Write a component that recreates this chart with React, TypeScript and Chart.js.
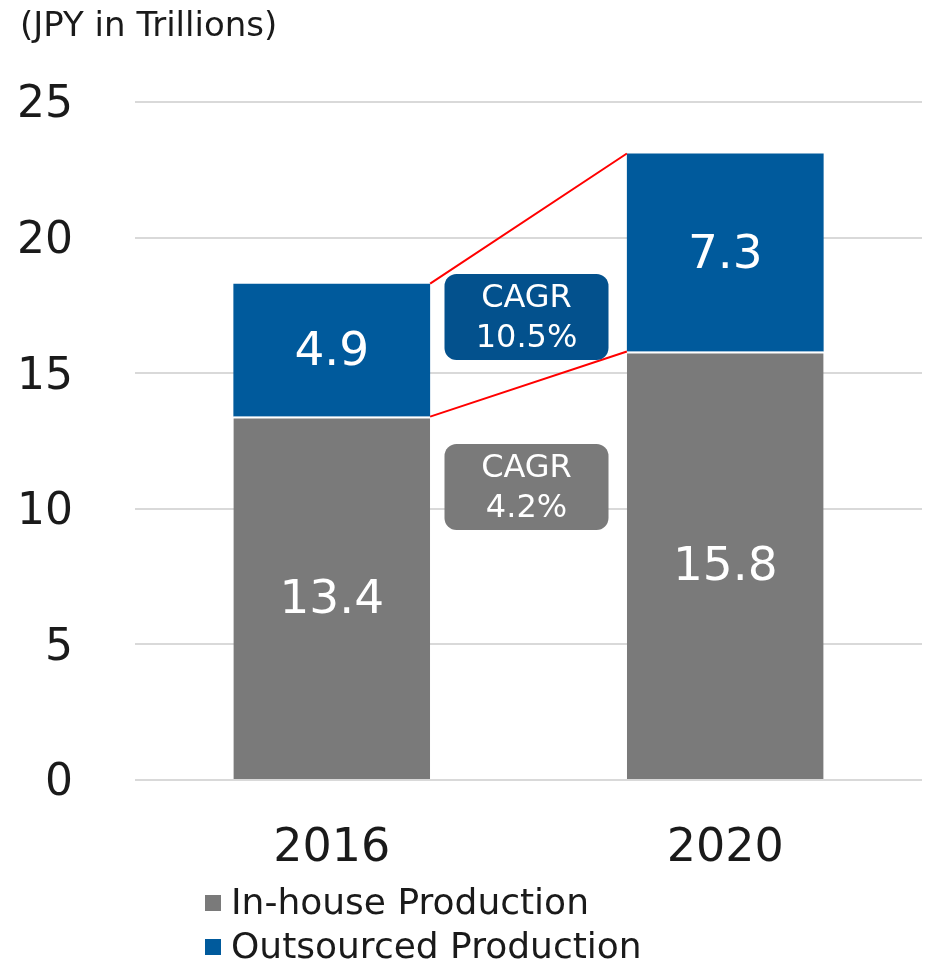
import React, { useEffect, useRef } from "react";
import { Chart, registerables } from "chart.js";

Chart.register(...registerables);

const categories = ["2016", "2020"];
const inHouse = [13.4, 15.8];
const outsourced = [4.9, 7.3];
const seriesNames = ["In-house Production", "Outsourced Production"];
const cagrLabels = ["10.5%", "4.2%"];
const yTicks = [0, 5, 10, 15, 20, 25];
const unitLabel = "(JPY in Trillions)";

const GRAY = "#7a7a7a";
const BLUE = "#005a9c";
const BOX_BLUE = "#03518d";
const FONT = "'DejaVu Sans', Verdana, sans-serif";

const overlayPlugin = {
  id: "overlay",
  afterDatasetsDraw(chart: any) {
    const ctx = chart.ctx;
    const y = chart.scales.y;
    const m0 = chart.getDatasetMeta(0);
    const m1 = chart.getDatasetMeta(1);
    ctx.save();
    // value labels
    ctx.fillStyle = "#ffffff";
    ctx.font = `47px ${FONT}`;
    ctx.textAlign = "center";
    ctx.textBaseline = "middle";
    categories.forEach((_, i) => {
      const b0 = m0.data[i];
      const b1 = m1.data[i];
      ctx.fillText(String(inHouse[i]), b0.x, (b0.y + b0.base) / 2 + 3);
      ctx.fillText(String(outsourced[i]), b1.x, (b1.y + b1.base) / 2 + 3);
    });
    // red connector lines
    const a0 = m1.data[0];
    const a1 = m1.data[1];
    const half0 = a0.width / 2;
    const half1 = a1.width / 2;
    ctx.strokeStyle = "#ff0000";
    ctx.lineWidth = 2;
    ctx.beginPath();
    ctx.moveTo(a0.x + half0, a0.y);
    ctx.lineTo(a1.x - half1, a1.y);
    ctx.moveTo(a0.x + half0, a0.base);
    ctx.lineTo(a1.x - half1, a1.base);
    ctx.stroke();
    // CAGR boxes
    const cx = (a0.x + half0 + a1.x - half1) / 2 - 2;
    const boxes = [
      { v: 17.07, color: BOX_BLUE, text: cagrLabels[0] },
      { v: 10.8, color: GRAY, text: cagrLabels[1] },
    ];
    const bw = 164;
    const bh = 86;
    boxes.forEach((b) => {
      const cy = y.getPixelForValue(b.v);
      ctx.fillStyle = b.color;
      ctx.beginPath();
      (ctx as any).roundRect(cx - bw / 2, cy - bh / 2, bw, bh, 12);
      ctx.fill();
      ctx.fillStyle = "#ffffff";
      ctx.font = `32px ${FONT}`;
      ctx.fillText("CAGR", cx, cy - 18);
      ctx.fillText(b.text, cx, cy + 22);
    });
    // unit label
    ctx.fillStyle = "#1a1a1a";
    ctx.textAlign = "left";
    ctx.font = `34px ${FONT}`;
    ctx.fillText(unitLabel, 20, 27);
    // legend
    const colors = [GRAY, BLUE];
    const ly = [903, 947];
    ctx.font = `36px ${FONT}`;
    seriesNames.forEach((n, i) => {
      ctx.fillStyle = colors[i];
      ctx.fillRect(205, ly[i] - 8, 16, 16);
      ctx.fillStyle = "#1a1a1a";
      ctx.fillText(n, 231, ly[i] + 2);
    });
    ctx.restore();
  },
};

export default function App() {
  const ref = useRef<HTMLCanvasElement>(null);
  useEffect(() => {
    if (!ref.current) return;
    const chart = new Chart(ref.current, {
      type: "bar",
      data: {
        labels: categories,
        datasets: [
          {
            label: seriesNames[0],
            data: inHouse,
            backgroundColor: GRAY,
            borderColor: "#ffffff",
            borderWidth: { top: 2, left: 0, right: 0, bottom: 0 },
            borderSkipped: false,
            barPercentage: 0.5,
            categoryPercentage: 1,
          },
          {
            label: seriesNames[1],
            data: outsourced,
            backgroundColor: BLUE,
            borderWidth: 0,
            barPercentage: 0.5,
            categoryPercentage: 1,
          },
        ],
      },
      options: {
        animation: false,
        responsive: false,
        devicePixelRatio: 1,
        layout: { padding: { top: 102, right: 3, left: 0, bottom: 0 } },
        plugins: { legend: { display: false }, tooltip: { enabled: false } },
        scales: {
          x: {
            stacked: true,
            grid: { display: false, drawTicks: false },
            border: { display: false },
            ticks: { color: "#1a1a1a", font: { family: FONT, size: 46 }, padding: 41 },
            afterFit: (s: any) => {
              s.height = 183;
            },
          },
          y: {
            stacked: true,
            min: 0,
            max: 25,
            afterBuildTicks: (s: any) => {
              s.ticks = yTicks.map((v) => ({ value: v }));
            },
            grid: { color: "#d9d9d9", lineWidth: 2, drawTicks: false },
            border: { display: false },
            ticks: { color: "#1a1a1a", font: { family: FONT, size: 44 }, padding: 62, labelOffset: 4 },
            afterFit: (s: any) => {
              s.width = 135;
            },
          },
        },
      },
      plugins: [overlayPlugin],
    });
    return () => chart.destroy();
  }, []);
  return (
    <div style={{ position: "absolute", left: 0, top: 0, width: 925, height: 963, background: "#fff" }}>
      <canvas ref={ref} width={925} height={963} style={{ width: 925, height: 963 }} />
    </div>
  );
}
